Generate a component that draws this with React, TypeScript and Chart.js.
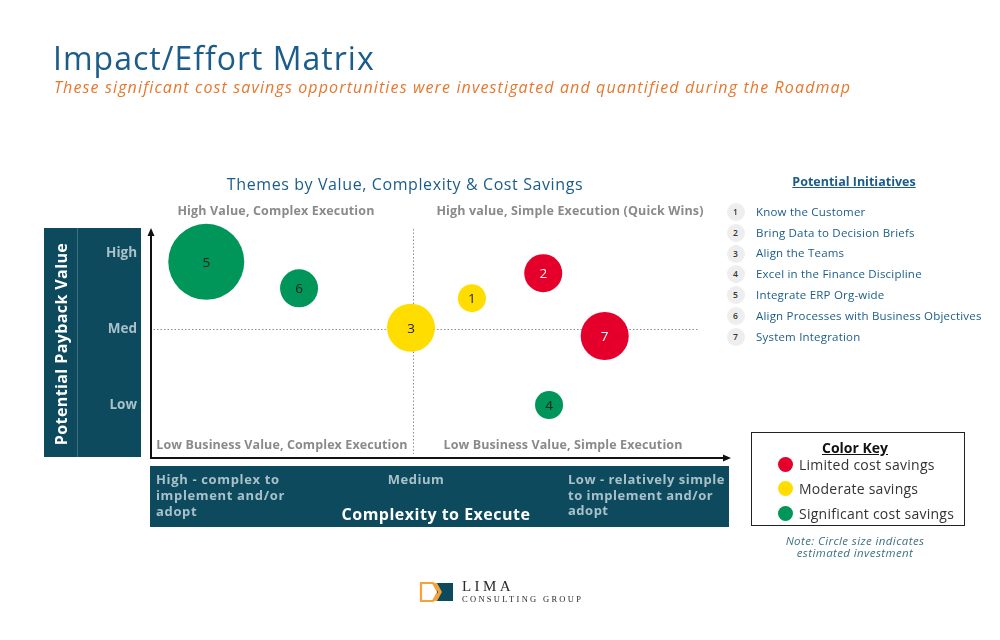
import React, { useEffect, useRef } from 'react';
import { Chart, registerables } from 'chart.js';

Chart.register(...registerables);

// ---------- data ----------
const initiativeIds = [1, 2, 3, 4, 5, 6, 7];
const initiativeNames = [
  'Know the Customer',
  'Bring Data to Decision Briefs',
  'Align the Teams',
  'Excel in the Finance Discipline',
  'Integrate ERP Org-wide',
  'Align Processes with Business Objectives',
  'System Integration',
];
// x: complexity position (0 = high complexity, 10 = simple)
const complexityScore = [5.55, 6.78, 4.5, 6.88, 0.97, 2.57, 7.84];
// y: payback value (1 = Low, 2 = Med, 3 = High)
const paybackValue = [2.41, 2.74, 2.02, 1.0, 2.89, 2.54, 1.91];
// bubble radius = estimated investment
const investmentSize = [14, 19, 24, 14, 38, 19, 24];
// index into savings categories
const savingsLevel = [1, 0, 1, 2, 2, 2, 0];

const savingsLabels = ['Limited cost savings', 'Moderate savings', 'Significant cost savings'];
const savingsColors = ['#e4002b', '#ffdd00', '#00965a'];
const savingsTextColors = ['#ffffff', '#222222', '#222222'];

const valueTickPositions = [1, 2, 3];
const valueTickLabels = ['Low', 'Med', 'High'];

const complexityMid = 4.53;
const valueMid = 2;
const dividerEnd = 9.45;

const quadrantLabels = [
  'High Value, Complex Execution',
  'High value, Simple Execution (Quick Wins)',
  'Low Business Value, Complex Execution',
  'Low Business Value, Simple Execution',
];

const FONT = '"Open Sans", "DejaVu Sans", sans-serif';
const BLUE = '#1b5c8a';
const TEAL = '#0d4a5e';
const PANEL_TEXT = '#a9c1c9';

const matrixPlugin = {
  id: 'matrixDecor',
  beforeDatasetsDraw(chart: any) {
    const { ctx, chartArea: a, scales } = chart;
    const x = scales.x;
    const y = scales.y;
    ctx.save();
    ctx.strokeStyle = '#8f8f8f';
    ctx.lineWidth = 1;
    ctx.setLineDash([1.5, 2]);
    const mx = Math.round(x.getPixelForValue(complexityMid)) + 0.5;
    ctx.beginPath();
    ctx.moveTo(mx, a.top - 1);
    ctx.lineTo(mx, a.bottom - 4);
    ctx.stroke();
    const my = Math.round(y.getPixelForValue(valueMid)) + 0.5;
    ctx.beginPath();
    ctx.moveTo(a.left, my);
    ctx.lineTo(x.getPixelForValue(dividerEnd), my);
    ctx.stroke();
    ctx.restore();
  },
  afterDatasetsDraw(chart: any) {
    const { ctx, chartArea: a } = chart;
    ctx.save();
    ctx.setLineDash([]);
    ctx.strokeStyle = '#111';
    ctx.fillStyle = '#111';
    ctx.lineWidth = 2;
    const ax = a.left + 1;
    // y axis
    ctx.beginPath();
    ctx.moveTo(ax, a.bottom + 1);
    ctx.lineTo(ax, a.top + 5);
    ctx.stroke();
    ctx.beginPath();
    ctx.moveTo(ax, a.top - 2);
    ctx.lineTo(ax - 3.5, a.top + 6);
    ctx.lineTo(ax + 3.5, a.top + 6);
    ctx.closePath();
    ctx.fill();
    // x axis
    ctx.beginPath();
    ctx.moveTo(a.left, a.bottom);
    ctx.lineTo(a.right - 5, a.bottom);
    ctx.stroke();
    ctx.beginPath();
    ctx.moveTo(a.right + 1, a.bottom);
    ctx.lineTo(a.right - 7, a.bottom - 3.5);
    ctx.lineTo(a.right - 7, a.bottom + 3.5);
    ctx.closePath();
    ctx.fill();
    // bubble numbers
    const meta = chart.getDatasetMeta(0);
    ctx.font = `13.5px ${FONT}`;
    ctx.textAlign = 'center';
    ctx.textBaseline = 'middle';
    meta.data.forEach((el: any, i: number) => {
      ctx.fillStyle = savingsTextColors[savingsLevel[i]];
      ctx.fillText(String(initiativeIds[i]), el.x, el.y + 1);
    });
    ctx.restore();
  },
};

type TProps = {
  x: number;
  y: number;
  size: number;
  color: string;
  weight?: number | string;
  italic?: boolean;
  align?: 'left' | 'center' | 'right';
  w?: number;
  ls?: number;
  family?: string;
  underline?: boolean;
  children: React.ReactNode;
};

function T({ x, y, size, color, weight = 400, italic, align = 'left', w = 600, ls = 0, family = FONT, underline, children }: TProps) {
  const lh = size * 1.4;
  let left = x;
  if (align === 'center') left = x - w / 2;
  if (align === 'right') left = x - w;
  return (
    <div
      style={{
        position: 'absolute',
        left,
        top: y - lh / 2,
        width: w,
        height: lh,
        lineHeight: `${lh}px`,
        fontSize: size,
        fontFamily: family,
        fontWeight: weight as any,
        fontStyle: italic ? 'italic' : 'normal',
        color,
        textAlign: align,
        letterSpacing: ls,
        whiteSpace: 'nowrap',
        textDecoration: underline ? 'underline' : 'none',
      }}
    >
      {children}
    </div>
  );
}

export default function App() {
  const canvasRef = useRef<HTMLCanvasElement | null>(null);

  useEffect(() => {
    const canvas = canvasRef.current;
    if (!canvas) return;
    const chart = new Chart(canvas, {
      type: 'bubble',
      data: {
        datasets: [
          {
            data: initiativeIds.map((_, i) => ({ x: complexityScore[i], y: paybackValue[i], r: investmentSize[i] })),
            backgroundColor: savingsLevel.map((l) => savingsColors[l]),
            borderWidth: 0,
            hoverBorderWidth: 0,
            clip: false as any,
          },
        ],
      },
      options: {
        responsive: false,
        animation: false,
        events: [],
        layout: { padding: { left: 90, right: 270, top: 230, bottom: 182 } },
        plugins: { legend: { display: false }, tooltip: { enabled: false } },
        scales: {
          x: { type: 'linear', min: 0, max: 10, display: false },
          y: {
            type: 'linear',
            min: 0.3,
            max: 3.31,
            position: 'left',
            grid: { display: false, drawTicks: false },
            border: { display: false },
            afterFit: (s: any) => {
              s.width = 60;
            },
            afterBuildTicks: (s: any) => {
              s.ticks = valueTickPositions.map((v) => ({ value: v }));
            },
            ticks: {
              padding: 13,
              color: PANEL_TEXT,
              font: { family: FONT, size: 13.5, weight: 'bold' },
              callback: (v: any) => {
                const idx = valueTickPositions.indexOf(Number(v));
                return idx >= 0 ? valueTickLabels[idx] : '';
              },
            },
          } as any,
        },
      },
      plugins: [matrixPlugin],
    });
    return () => chart.destroy();
  }, []);

  return (
    <div style={{ position: 'fixed', left: 0, top: 0, width: 1000, height: 640, background: '#fff', overflow: 'hidden' }}>
      {/* panels behind canvas */}
      <div style={{ position: 'absolute', left: 44, top: 228, width: 97, height: 229, background: TEAL }} />
      <div style={{ position: 'absolute', left: 77, top: 228, width: 1, height: 229, background: '#3f7081' }} />
      <div style={{ position: 'absolute', left: 150, top: 466, width: 579, height: 61, background: TEAL }} />

      <canvas ref={canvasRef} width={1000} height={640} style={{ position: 'absolute', left: 0, top: 0, width: 1000, height: 640 }} />

      {/* titles */}
      <T x={53} y={58} size={32} color={BLUE} ls={1}>Impact/Effort Matrix</T>
      <T x={54} y={87} size={16} color="#e8772e" italic w={900} ls={1.13}>
        These significant cost savings opportunities were investigated and quantified during the Roadmap
      </T>
      <T x={405} y={184} size={16} color={BLUE} align="center" w={500} ls={0.6}>
        Themes by Value, Complexity &amp; Cost Savings
      </T>

      {/* quadrant labels */}
      <T x={276} y={211} size={12.5} color="#8a8a8a" weight={700} align="center" w={300} ls={0.15}>{quadrantLabels[0]}</T>
      <T x={570} y={211} size={12.5} color="#8a8a8a" weight={700} align="center" w={320} ls={0.15}>{quadrantLabels[1]}</T>
      <T x={282} y={445} size={12.5} color="#8a8a8a" weight={700} align="center" w={300} ls={0.1}>{quadrantLabels[2]}</T>
      <T x={563} y={445} size={12.5} color="#8a8a8a" weight={700} align="center" w={300} ls={0.1}>{quadrantLabels[3]}</T>

      {/* left panel title */}
      <div
        style={{
          position: 'absolute',
          left: 61 - 130,
          top: 344 - 12,
          width: 260,
          height: 24,
          lineHeight: '24px',
          textAlign: 'center',
          transform: 'rotate(-90deg)',
          color: '#fff',
          fontFamily: FONT,
          fontWeight: 700,
          fontSize: 16,
          letterSpacing: 0.4,
          whiteSpace: 'nowrap',
        }}
      >
        Potential Payback Value
      </div>

      {/* bottom panel */}
      <T x={156} y={479} size={13} color={PANEL_TEXT} weight={700} ls={0.65}>High - complex to</T>
      <T x={156} y={495} size={13} color={PANEL_TEXT} weight={700} ls={0.65}>implement and/or</T>
      <T x={156} y={511} size={13} color={PANEL_TEXT} weight={700} ls={0.65}>adopt</T>
      <T x={416} y={479} size={13} color={PANEL_TEXT} weight={700} align="center" w={200} ls={0.5}>Medium</T>
      <T x={436} y={514} size={16} color="#ffffff" weight={700} align="center" w={300} ls={0.5}>Complexity to Execute</T>
      <T x={568} y={479} size={13} color={PANEL_TEXT} weight={700} ls={0.5}>Low - relatively simple</T>
      <T x={568} y={495} size={13} color={PANEL_TEXT} weight={700} ls={0.5}>to implement and/or</T>
      <T x={568} y={510} size={13} color={PANEL_TEXT} weight={700} ls={0.5}>adopt</T>

      {/* initiatives legend */}
      <T x={854} y={182} size={12.5} color={BLUE} weight={700} align="center" w={200} underline>
        Potential Initiatives
      </T>
      {initiativeNames.map((name, i) => {
        const cy = 211.7 + i * 20.9;
        return (
          <React.Fragment key={name}>
            <div
              style={{
                position: 'absolute',
                left: 735.5 - 9,
                top: cy - 9,
                width: 18,
                height: 18,
                borderRadius: 9,
                background: '#eeeeee',
                color: '#333',
                fontFamily: FONT,
                fontSize: 8.5,
                fontWeight: 600,
                lineHeight: '18px',
                textAlign: 'center',
              }}
            >
              {initiativeIds[i]}
            </div>
            <T x={756} y={cy} size={11.5} color={BLUE} ls={0.2}>{name}</T>
          </React.Fragment>
        );
      })}

      {/* color key */}
      <div style={{ position: 'absolute', left: 751, top: 432, width: 212, height: 92, border: '1.5px solid #222' }} />
      <T x={855} y={448} size={14} color="#111" weight={700} align="center" w={200} underline>Color Key</T>
      {savingsLabels.map((label, i) => {
        const cy = 464.3 + i * 24.5;
        return (
          <React.Fragment key={label}>
            <div
              style={{
                position: 'absolute',
                left: 785.5 - 7.5,
                top: cy - 7.5,
                width: 15,
                height: 15,
                borderRadius: 8,
                background: savingsColors[i],
              }}
            />
            <T x={799} y={cy} size={14} color="#333" ls={0.25}>{label}</T>
          </React.Fragment>
        );
      })}
      <T x={855} y={541.5} size={11.5} color="#3f7283" italic align="center" w={200} ls={0.4}>Note: Circle size indicates</T>
      <T x={855} y={553} size={11.5} color="#3f7283" italic align="center" w={200} ls={0.4}>estimated investment</T>

      {/* logo */}
      <svg style={{ position: 'absolute', left: 416, top: 578 }} width={42} height={28}>
        <path d="M5 5 H17 L22 14 L17 23 H5 Z" fill="#fff" stroke="#f2a33a" strokeWidth={2.2} />
        <rect x={21} y={5} width={16} height={18} fill={TEAL} />
        <path d="M17 5 H21 L26 14 L21 23 H17 L22 14 Z" fill="#f2a33a" />
      </svg>
      <T x={462} y={586} size={15} color="#2b2b2b" ls={3.4} family='"Liberation Serif", "DejaVu Serif", serif'>LIMA</T>
      <T x={462} y={600} size={8.5} color="#2b2b2b" ls={2.3} family='"Liberation Serif", "DejaVu Serif", serif'>CONSULTING GROUP</T>
    </div>
  );
}
